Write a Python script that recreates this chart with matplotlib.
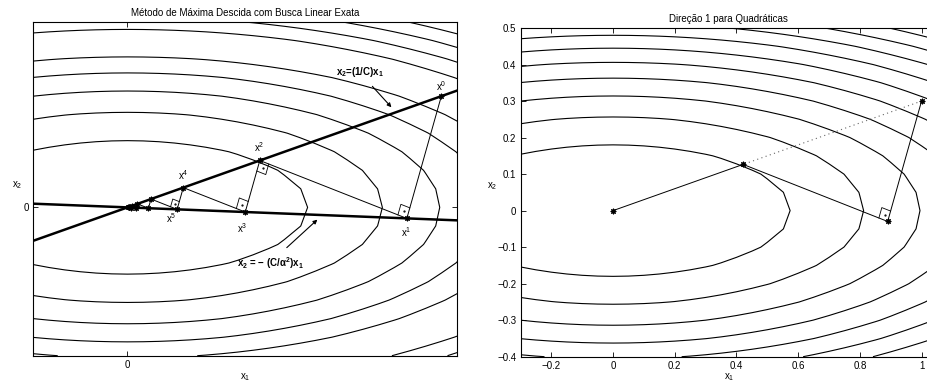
import numpy as np
import matplotlib
matplotlib.use('Agg')
from matplotlib import pyplot as plt

plt.rcParams['font.family'] = ['Liberation Sans', 'DejaVu Sans']
plt.rcParams['mathtext.fontset'] = 'custom'
plt.rcParams['mathtext.rm'] = 'Liberation Sans'
plt.rcParams['mathtext.it'] = 'Liberation Sans'
plt.rcParams['mathtext.bf'] = 'Liberation Sans:bold'
plt.rcParams['axes.unicode_minus'] = True

# quadratic f(x) = 0.5*(h1*x1^2 + h2*x2^2)
hess = [1.0, 10.0]
grid_x1 = np.linspace(-0.3, 1.1, 29)
grid_x2 = np.linspace(-0.4, 0.5, 19)
levels_left = [0.165, 0.33, 0.495, 0.66, 0.825, 1.155, 1.32, 1.485, 1.65, 1.815]
levels_right = [0.165, 0.33, 0.495, 0.66, 0.825, 0.99, 1.155, 1.32, 1.485, 1.65, 1.815]

# steepest descent iterates x^0, x^1, ...
path_x1 = [1.0, 0.8901, 0.4216, 0.3753, 0.1778, 0.1582, 0.0750, 0.0667,
           0.0316, 0.0281, 0.0133, 0.0119, 0.0056, 0.0050, 0.0024]
path_x2 = [0.3, -0.0297, 0.1265, -0.0125, 0.0533, -0.0053, 0.0225, -0.0022,
           0.0095, -0.0009, 0.0040, -0.0004, 0.0017, -0.0002, 0.0007]
point_labels = ['x$^0$', 'x$^1$', 'x$^2$', 'x$^3$', 'x$^4$', 'x$^5$']
label_offsets = [(0, 10), (-1, -14), (-1, 13.5), (-3, -16), (0, 12.5), (-6, -8.5)]
right_angle_at = [1, 2, 3, 5]

# lines through the origin
slope_up = 0.3          # x2 = (1/C) x1
slope_down = -0.0333    # x2 = -(C/alpha^2) x1

# second panel: x0, x1, x2 and the minimiser
dir_x1 = [1.0, 0.8901, 0.4216, 0.0]
dir_x2 = [0.3, -0.0297, 0.1265, 0.0]
right_xticks = [-0.2, 0, 0.2, 0.4, 0.6, 0.8, 1]
right_xticklabels = ['\u22120.2', '0', '0.2', '0.4', '0.6', '0.8', '1']
right_yticks = [-0.4, -0.3, -0.2, -0.1, 0, 0.1, 0.2, 0.3, 0.4, 0.5]
right_yticklabels = ['\u22120.4', '\u22120.3', '\u22120.2', '\u22120.1', '0',
                     '0.1', '0.2', '0.3', '0.4', '0.5']

X1, X2 = np.meshgrid(grid_x1, grid_x2)
F = 0.5 * (hess[0] * X1**2 + hess[1] * X2**2)

star = (8, 2, 0)
fs = 7


def right_angle(ax, i, px, py, s):
    p = np.array([px[i], py[i]])
    u = np.array([px[i - 1], py[i - 1]]) - p
    v = np.array([px[i + 1], py[i + 1]]) - p
    u = u / np.hypot(*u)
    v = v / np.hypot(*v)
    sq = np.array([p + s * u, p + s * (u + v), p + s * v])
    ax.plot(sq[:, 0], sq[:, 1], 'k-', lw=0.6)
    c = p + 0.5 * s * (u + v)
    ax.plot(c[0], c[1], 'k.', ms=1.2)


def style(ax):
    ax.set_xlim(-0.3, 1.05)
    ax.set_ylim(-0.4, 0.5)
    ax.tick_params(direction='in', top=True, right=True, length=3.5,
                   width=0.6, labelsize=fs, pad=3)
    for sp in ax.spines.values():
        sp.set_linewidth(0.8)


fig = plt.figure(figsize=(9.28, 3.84), dpi=100)

# ---- left panel
ax = fig.add_axes([0.0359, 0.0737, 0.4566, 0.869])
ax.contour(X1, X2, F, levels=levels_left, colors='k', linewidths=0.8)
ax.axline((0, 0), slope=slope_up, color='k', lw=1.8)
ax.axline((0, 0), slope=slope_down, color='k', lw=1.8)
ax.plot(path_x1, path_x2, 'k-', lw=0.7, marker=star, ms=4, mew=0.8)
for i in right_angle_at:
    right_angle(ax, i, path_x1, path_x2, 0.03 if i < 5 else 0.022)
for i, lab in enumerate(point_labels):
    ax.annotate(lab, (path_x1[i], path_x2[i]), xytext=label_offsets[i],
                textcoords='offset pixels', ha='center', va='center', fontsize=fs)
ax.annotate(r'x$_\mathbf{2}$=(1/C)x$_\mathbf{1}$', xy=(0.841, 0.27), xytext=(0.74, 0.364),
            ha='center', va='center', fontsize=fs, fontweight='bold',
            arrowprops=dict(arrowstyle='-|>', color='k', lw=0.8, mutation_scale=6,
                            shrinkA=4, shrinkB=0))
ax.annotate('x$_\\mathbf{2}$ = \u2212 (C/\u03b1$^\\mathbf{2}$)x$_\\mathbf{1}$',
            xy=(0.605, -0.033), xytext=(0.454, -0.150),
            ha='center', va='center', fontsize=fs, fontweight='bold',
            arrowprops=dict(arrowstyle='-|>', color='k', lw=0.8, mutation_scale=6,
                            shrinkA=5, shrinkB=0))
style(ax)
ax.set_xticks([0])
ax.set_yticks([0])
ax.set_xticklabels(['0'])
ax.set_yticklabels(['0'])
ax.set_title('Método de Máxima Descida com Busca Linear Exata', fontsize=fs, pad=4.5)
ax.set_xlabel('x$_1$', fontsize=fs)
ax.set_ylabel('x$_2$', fontsize=fs, rotation=0, ha='center', va='center')
ax.xaxis.set_label_coords(0.5, -0.046)
ax.yaxis.set_label_coords(-0.0385, 0.51)

# ---- right panel
ax = fig.add_axes([0.5609, 0.0711, 0.4488, 0.856])
ax.contour(X1, X2, F, levels=levels_right, colors='k', linewidths=0.8)
ax.plot([dir_x1[0], dir_x1[2]], [dir_x2[0], dir_x2[2]], color='0.4', lw=0.8,
        linestyle=(0, (1, 3)))
ax.plot(dir_x1, dir_x2, 'k-', lw=0.7, marker=star, ms=4, mew=0.8)
right_angle(ax, 1, dir_x1, dir_x2, 0.03)
style(ax)
ax.set_xticks(right_xticks)
ax.set_xticklabels(right_xticklabels)
ax.set_yticks(right_yticks)
ax.set_yticklabels(right_yticklabels)
ax.set_title('Direção 1 para Quadráticas', fontsize=fs, pad=4.5)
ax.set_xlabel('x$_1$', fontsize=fs)
ax.set_ylabel('x$_2$', fontsize=fs, rotation=0, ha='center', va='center')
ax.xaxis.set_label_coords(0.5, -0.0435)
ax.yaxis.set_label_coords(-0.068, 0.52)

fig.savefig('out.png', dpi=100)
